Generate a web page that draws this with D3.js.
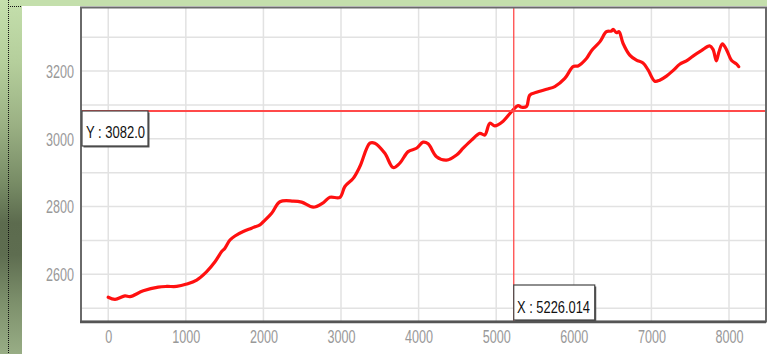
<!DOCTYPE html>
<html><head><meta charset="utf-8">
<script src="https://cdn.jsdelivr.net/npm/d3@7"></script>
<style>html,body{margin:0;padding:0;background:#fff;overflow:hidden}</style>
</head><body>
<svg id="c" width="767" height="354"></svg>
<script>
const xValues = [0,88,216,281,452,645,754,882,1011,1140,1269,1376,1462,1504,1569,1633,1740,1848,1955,1998,2106,2213,2384,2492,2642,2770,2857,2986,3050,3157,3243,3372,3436,3565,3672,3758,3865,3973,4058,4123,4231,4360,4489,4574,4682,4789,4853,4918,4982,5089,5197,5282,5326,5390,5433,5519,5648,5755,5884,5991,6055,6163,6228,6335,6421,6485,6506,6550,6583,6634,6721,6807,6892,6957,7043,7107,7194,7278,7365,7451,7536,7644,7751,7794,7837,7871,7915,7966,8031,8095,8125];
const yValues = [2532,2526,2536,2534,2551,2562,2564,2564,2571,2583,2608,2637,2667,2677,2701,2713,2726,2736,2746,2755,2780,2814,2816,2813,2798,2811,2827,2827,2859,2883,2918,2987,2987,2957,2915,2928,2962,2972,2990,2985,2947,2937,2952,2972,2996,3016,3011,3046,3038,3052,3080,3098,3093,3095,3129,3137,3146,3154,3178,3213,3215,3237,3260,3286,3316,3318,3323,3313,3316,3282,3247,3232,3224,3203,3170,3173,3185,3201,3220,3230,3244,3260,3274,3264,3230,3257,3280,3264,3232,3221,3213];
const xTicks = [0,1000,2000,3000,4000,5000,6000,7000,8000];
const yTicks = [2600,2800,3000,3200];
const yGrid = [2500,2600,2700,2800,2900,3000,3100,3200,3300];
const crossX = 5226.014;
const crossY = 3082.0;
const xDomain = [-338, 8464];
const yDomain = [2462, 3386];

const svg = d3.select("#c");
const L = 82, R = 765, T = 8, B = 321;
const x = d3.scaleLinear().domain(xDomain).range([L, R]);
const y = d3.scaleLinear().domain(yDomain).range([B, T]);

// background decorations
const defs = svg.append("defs");
const g1 = defs.append("linearGradient").attr("id","side").attr("x1",0).attr("y1",0).attr("x2",0).attr("y2",1);
[[0,"#c4dfac"],[0.18,"#b4ce9b"],[0.35,"#9bb184"],[0.52,"#778b65"],[0.63,"#5c6b4e"],[0.72,"#5e6d50"],[0.85,"#7c8f6b"],[1,"#98ad85"]]
  .forEach(s => g1.append("stop").attr("offset", s[0]).attr("stop-color", s[1]));
svg.append("rect").attr("x",0).attr("y",0).attr("width",767).attr("height",354).attr("fill","#fff");
svg.append("rect").attr("x",0).attr("y",0).attr("width",767).attr("height",6).attr("fill","#c4dfac");
svg.append("rect").attr("x",0).attr("y",0).attr("width",22).attr("height",354).attr("fill","url(#side)");
svg.append("line").attr("x1",8.5).attr("x2",8.5).attr("y1",0).attr("y2",354)
  .attr("stroke","#111").attr("stroke-width",1).attr("stroke-dasharray","1,1");
svg.append("line").attr("x1",8).attr("x2",22).attr("y1",6.5).attr("y2",6.5)
  .attr("stroke","#111").attr("stroke-width",1).attr("stroke-dasharray","1,1");

// grid
const grid = svg.append("g");
grid.selectAll(".gy").data(yGrid).join("line")
  .attr("x1",L).attr("x2",R).attr("y1",d=>y(d)).attr("y2",d=>y(d))
  .attr("stroke","#e2e2e2").attr("stroke-width",1.5);
grid.selectAll(".gx").data(xTicks).join("line")
  .attr("y1",T).attr("y2",B).attr("x1",d=>x(d)).attr("x2",d=>x(d))
  .attr("stroke","#e2e2e2").attr("stroke-width",1.5);

// axes labels via d3 axis
const xAxis = svg.append("g").attr("transform",`translate(0,${B})`)
  .call(d3.axisBottom(x).tickValues(xTicks).tickSize(0).tickPadding(9).tickFormat(d3.format("d")));
const yAxis = svg.append("g").attr("transform",`translate(${L},0)`)
  .call(d3.axisLeft(y).tickValues(yTicks).tickSize(0).tickPadding(8).tickFormat(d3.format("d")));
[xAxis, yAxis].forEach(a => {
  a.select(".domain").remove();
  a.selectAll("text").attr("fill","#999").attr("font-family","Liberation Sans, Arial, sans-serif")
    .attr("font-size",18).attr("textLength",function(){ return 7 * this.textContent.length; })
    .attr("lengthAdjust","spacingAndGlyphs");
});
yAxis.selectAll("text").attr("dy","0.36em");

// line
const line = d3.line().x((d,i)=>x(xValues[i])).y((d,i)=>y(yValues[i])).curve(d3.curveCatmullRom.alpha(0.5));
svg.append("path").datum(yValues).attr("d", line).attr("fill","none")
  .attr("stroke","#ff1010").attr("stroke-width",3.2).attr("stroke-linejoin","round").attr("stroke-linecap","round");

// crosshair
svg.append("line").attr("x1",L).attr("x2",R).attr("y1",y(crossY)).attr("y2",y(crossY))
  .attr("stroke","#ff4a4a").attr("stroke-width",2.2);
svg.append("line").attr("x1",x(crossX)).attr("x2",x(crossX)).attr("y1",T).attr("y2",B)
  .attr("stroke","#ff4a4a").attr("stroke-width",1.3);

// frame
svg.append("rect").attr("x",L-1).attr("y",T-0.5).attr("width",R-L+2).attr("height",B-T+1)
  .attr("fill","none").attr("stroke","#6a6a6a").attr("stroke-width",2);
svg.append("line").attr("x1",L-2).attr("x2",R+1).attr("y1",B+1).attr("y2",B+1)
  .attr("stroke","#555").attr("stroke-width",2.5);

// label boxes
function box(bx, by, w, h, txt, tx, ty, tw) {
  const g = svg.append("g");
  g.append("rect").attr("x",bx+1.5).attr("y",by+1.5).attr("width",w).attr("height",h).attr("fill","#555");
  g.append("rect").attr("x",bx).attr("y",by).attr("width",w).attr("height",h)
    .attr("fill","#fff").attr("stroke","#444").attr("stroke-width",1.2);
  g.append("text").attr("x",tx).attr("y",ty).text(txt)
    .attr("font-family","Liberation Sans, Arial, sans-serif").attr("font-size",17).attr("fill","#111")
    .attr("textLength",tw).attr("lengthAdjust","spacingAndGlyphs");
}
box(L, y(crossY), 66, 35, "Y : " + crossY.toFixed(1), 86, 137.5, 59);
box(x(crossX), B - 36, 81, 35, "X : " + crossX.toFixed(3), 517, 312.5, 73);
</script>
</body></html>
